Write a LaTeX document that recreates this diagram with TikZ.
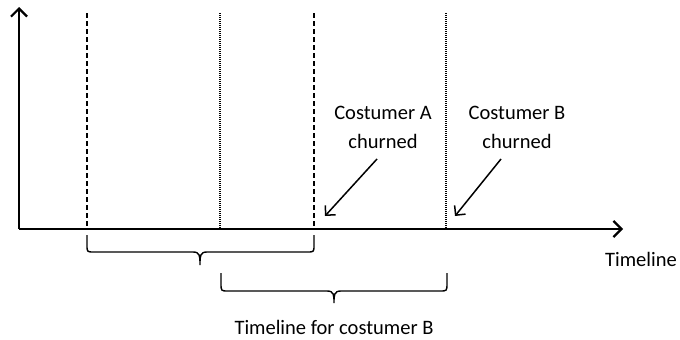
\documentclass[tikz,border=0pt]{standalone}
\usepackage{fontspec}
\setmainfont{Carlito}
\usetikzlibrary{arrows.meta}
\begin{document}
\begin{tikzpicture}[x=1pt,y=-1pt,
  axis/.style={line width=2.2pt,-{Straight Barb[length=8pt,width=16pt,line width=2.2pt]}},
  dashmark/.style={line width=1.4pt,dash pattern=on 5pt off 3pt},
  dotmark/.style={line width=1.4pt,dash pattern=on 1pt off 1pt},
  bracepath/.style={line width=1.4pt},
  pointer/.style={line width=1.5pt,-{Straight Barb[length=7pt,width=14pt,line width=1.5pt]}},
  lbl/.style={font=\fontsize{20.5}{29}\selectfont,align=center,inner sep=0pt}]
\useasboundingbox (0,0) rectangle (680,340);
% axes
\coordinate (O) at (19,229);
\coordinate (ytop) at (19,7);
\coordinate (xend) at (623,229);
\draw[axis] (O) -- (ytop);
\draw[axis] (O) -- (xend);
% period boundaries
\coordinate (d1t) at (87,13);  \coordinate (d1b) at (87,228);
\coordinate (p1t) at (220,13); \coordinate (p1b) at (220,228);
\coordinate (d2t) at (314,13); \coordinate (d2b) at (314,228);
\coordinate (p2t) at (446,13); \coordinate (p2b) at (446,228);
\draw[dashmark] (d1t) -- (d1b);
\draw[dashmark] (d2t) -- (d2b);
\draw[dotmark] (p1t) -- (p1b);
\draw[dotmark] (p2t) -- (p2b);
% braces
\draw[bracepath] (87,235) -- (87,245) .. controls (87,252) .. (94,252)
  -- (193,252) .. controls (200,252) and (200,256) .. (200,265)
  .. controls (200,256) and (200,252) .. (207,252)
  -- (307,252) .. controls (314,252) .. (314,245) -- (314,235);
\draw[bracepath] (221,273) -- (221,283) .. controls (221,291) .. (228,291)
  -- (327,291) .. controls (334,291) and (334,295) .. (334,303)
  .. controls (334,295) and (334,291) .. (341,291)
  -- (440,291) .. controls (447,291) .. (447,283) -- (447,273);
% labels
\node[lbl] (tl) at (641,259) {Timeline};
\node[lbl] (tlb) at (334,327) {Timeline for costumer B};
\node[lbl] (ca) at (383,127) {Costumer A\\churned};
\node[lbl] (cb) at (517,127) {Costumer B\\churned};
% churn pointers
\coordinate (castart) at (377,159);
\coordinate (cbstart) at (501,159);
\coordinate (caend) at (325,216);
\coordinate (cbend) at (455,216);
\draw[pointer] (castart) -- (caend);
\draw[pointer] (cbstart) -- (cbend);
\end{tikzpicture}
\end{document}
